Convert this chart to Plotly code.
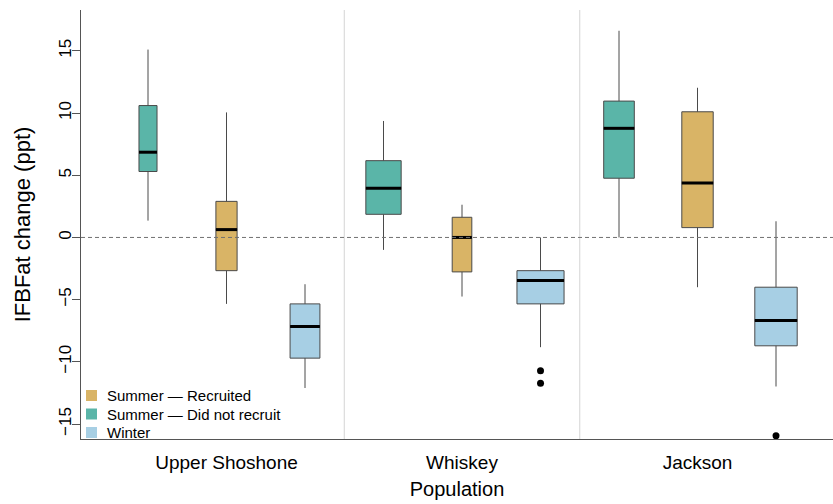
import plotly.graph_objects as go

# ---- data -------------------------------------------------------------
populations = ["Upper Shoshone", "Whiskey", "Jackson"]
seasons = ["Summer — Did not recruit", "Summer — Recruited", "Winter"]

# box statistics, ordered population by population, season within population
upper_whisker = [15.1, 10.05, -3.76, 9.36, 2.63, 0.0, 16.61, 12.03, 1.3]
q3_values = [10.6, 2.9, -5.34, 6.17, 1.62, -2.67, 10.96, 10.1, -4.0]
median_values = [6.85, 0.63, -7.16, 3.95, 0.0, -3.47, 8.77, 4.38, -6.68]
q1_values = [5.3, -2.67, -9.7, 1.86, -2.77, -5.34, 4.76, 0.79, -8.71]
lower_whisker = [1.35, -5.34, -12.1, -1.0, -4.75, -8.82, 0.0, -4.0, -11.98]

# outlying observations: (population, season, value)
outlier_pop = ["Whiskey", "Whiskey", "Jackson"]
outlier_season = ["Winter", "Winter", "Winter"]
outlier_values = [-10.72, -11.71, -15.94]

yticks = [-15, -10, -5, 0, 5, 10, 15]
reference_level = 0

# ---- styling ----------------------------------------------------------
FONT = "Liberation Sans, Arial, Helvetica, sans-serif"
season_colors = {
    "Summer — Did not recruit": "#5AB5A8",
    "Summer — Recruited": "#D9B466",
    "Winter": "#A7CFE4",
}
# box widths (x units), scaled with group size
box_widths = [0.23, 0.27, 0.38, 0.45, 0.25, 0.60, 0.39, 0.40, 0.54]
legend_order = ["Summer — Recruited", "Summer — Did not recruit", "Winter"]
OUTLINE = "#4a4a4a"

W, H = 833, 504
MARGIN = dict(l=81, r=0, t=10, b=65)

n_s = len(seasons)


def position(pop, season):
    return populations.index(pop) * n_s + seasons.index(season) + 1


fig = go.Figure()

med_x, med_y = [], []
k = 0
for pop in populations:
    for season in seasons:
        pos = position(pop, season)
        w = box_widths[k]
        fig.add_trace(go.Box(
            x=[pos],
            q1=[q1_values[k]], median=[median_values[k]], q3=[q3_values[k]],
            lowerfence=[lower_whisker[k]], upperfence=[upper_whisker[k]],
            width=w, whiskerwidth=0,
            fillcolor=season_colors[season],
            line=dict(color=OUTLINE, width=1),
            boxpoints=False,
            showlegend=False,
            hoverinfo="skip",
            name=f"{pop} – {season}",
        ))
        med_x += [pos - w / 2, pos + w / 2, None]
        med_y += [median_values[k], median_values[k], None]
        k += 1

# thick medians
fig.add_trace(go.Scatter(
    x=med_x, y=med_y, mode="lines",
    line=dict(color="black", width=3),
    showlegend=False, hoverinfo="skip",
))

# outliers
fig.add_trace(go.Scatter(
    x=[position(p, s) for p, s in zip(outlier_pop, outlier_season)],
    y=outlier_values, mode="markers",
    marker=dict(color="black", size=7),
    showlegend=False, hoverinfo="skip",
))

# separators between populations
for i in range(1, len(populations)):
    xs = i * n_s + 0.5
    fig.add_shape(type="line", xref="x", yref="paper", x0=xs, x1=xs, y0=0, y1=1,
                  line=dict(color="#d4d4d4", width=1), layer="below")

# zero reference
fig.add_shape(type="line", xref="paper", yref="y", x0=0, x1=1,
              y0=reference_level, y1=reference_level,
              line=dict(color="#707070", width=1, dash="4px,3px"), layer="above")

# key in the lower-left corner: filled squares with labels
plot_w = W - MARGIN["l"] - MARGIN["r"]
plot_h = H - MARGIN["t"] - MARGIN["b"]
key_left_px, key_bottom_px, row_px, sq_px = 5, 6.5, 18.5, 11
for j, season in enumerate(legend_order):
    row_center = key_bottom_px + (len(legend_order) - 1 - j) * row_px
    yc = row_center / plot_h
    fig.add_shape(type="rect", xref="paper", yref="paper",
                  x0=key_left_px / plot_w, x1=(key_left_px + sq_px) / plot_w,
                  y0=yc - sq_px / 2 / plot_h, y1=yc + sq_px / 2 / plot_h,
                  fillcolor=season_colors[season], line=dict(width=0))
    fig.add_annotation(xref="paper", yref="paper",
                       x=(key_left_px + sq_px + 8) / plot_w, y=yc,
                       xanchor="left", yanchor="middle", showarrow=False,
                       text=season, font=dict(size=15, family=FONT, color="black"))

group_centers = [i * n_s + (n_s + 1) / 2 for i in range(len(populations))]

fig.update_layout(
    width=W, height=H,
    margin=MARGIN,
    paper_bgcolor="white", plot_bgcolor="white",
    font=dict(family=FONT, color="black"),
    showlegend=False,
    xaxis=dict(
        range=[0.1465, 9.726],
        tickvals=group_centers, ticktext=populations,
        ticks="", showgrid=False, zeroline=False,
        showline=True, linecolor="#555555", linewidth=1,
        tickfont=dict(size=19), ticklabelstandoff=6,
        title=dict(text="Population", font=dict(size=20), standoff=10),
    ),
    yaxis=dict(
        range=[-16.2, 18.28],
        tickvals=yticks, tickangle=-90,
        ticks="outside", ticklen=8, tickcolor="#555555", tickwidth=1,
        showgrid=False, zeroline=False,
        showline=True, linecolor="#555555", linewidth=1,
        tickfont=dict(size=17), ticklabelstandoff=-6,
        title=dict(text="IFBFat change (ppt)", font=dict(size=22), standoff=19),
    ),
)

fig.write_html("out.html")
